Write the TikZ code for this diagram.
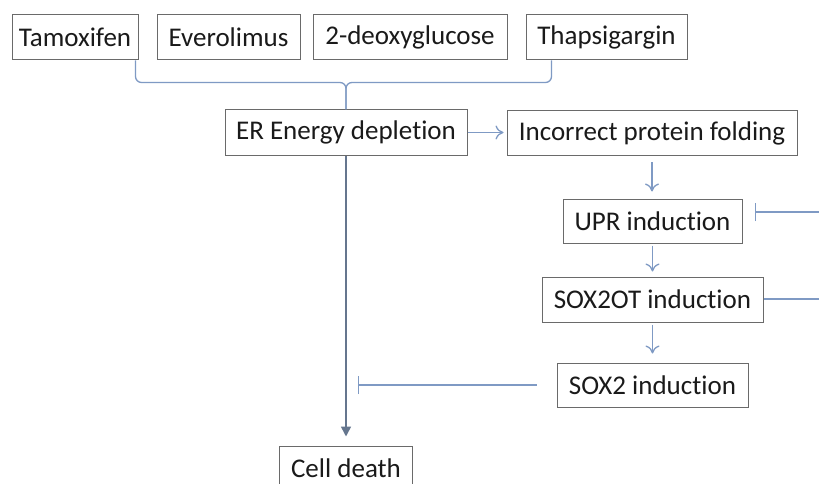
\documentclass[tikz,border=0pt]{standalone}
\usepackage{fontspec}
\setmainfont{Carlito}[Ligatures={NoCommon}]
\usetikzlibrary{arrows.meta,calc}
\definecolor{linkc}{HTML}{7F9AC4}
\definecolor{mainc}{HTML}{65768E}
\definecolor{boxline}{HTML}{6A6A6A}
\definecolor{txt}{HTML}{1A1A1A}
\begin{document}
\begin{tikzpicture}[x=1pt,y=-1pt,
  box/.style={draw=boxline, line width=1pt, minimum height=45pt, inner sep=0pt,
    font=\fontsize{27}{30}\selectfont, text=txt},
  link/.style={draw=linkc, line width=1.3pt},
  flow/.style={link, -{To[length=8pt,width=14pt]}},
  inhib/.style={link, -{Bar[width=18pt,line width=1.3pt]}},
  mainflow/.style={draw=mainc, line width=1.6pt, -{Triangle[length=10pt,width=10pt]}}]
\useasboundingbox (0,0) rectangle (819,484);
\fill[white] (0,0) rectangle (819,484);
\clip (0,0) rectangle (819,484);

\node[box, minimum width=126pt] (tam) at (75,37.5) {Tamoxifen};
\node[box, minimum width=143pt] (eve) at (228.5,37.5) {Everolimus};
\node[box, minimum width=194pt] (deo) at (410,37.5) {2-deoxyglucose};
\node[box, minimum width=161pt] (tha) at (606.5,37.5) {Thapsigargin};

\node[box, minimum width=242pt] (er) at (346,132.5) {ER Energy depletion};
\node[box, minimum width=290pt] (inc) at (652,133) {Incorrect protein folding};
\node[box, minimum width=179pt, minimum height=44pt] (upr) at (652.5,221) {UPR induction};
\node[box, minimum width=221pt] (sot) at (652.5,299.5) {SOX2OT induction};
\node[box, minimum width=191pt, minimum height=44pt] (sox) at (652.5,385) {SOX2 induction};
\node[box, minimum width=133pt] (cd) at (346,468.5) {Cell death};

% bracket joining the four drugs
\draw[link, rounded corners=6pt] ([xshift=-3pt]tam.south east) |- ($(er.north)+(0,-27)$) -- (er.north);
\draw[link, rounded corners=6pt] ([xshift=26pt]tha.south west) |- ($(er.north)+(0,-27)$) -- (er.north);

% main flow
\draw[flow, shorten >=3pt] (er.east) -- (er.east -| inc.west);
\draw[flow, shorten <=6pt, shorten >=7pt] (inc.south) -- (inc.south |- upr.north);
\draw[flow, shorten <=2pt, shorten >=5pt] (upr.south) -- (upr.south |- sot.north);
\draw[flow, shorten <=2pt, shorten >=9pt] (sot.south) -- (sot.south |- sox.north);
\draw[mainflow, shorten >=9pt] (er.south) -- (er.south |- cd.north);

% inhibitions
\coordinate (blk) at (358,385);
\draw[inhib, shorten <=20pt] (sox.west) -- (blk);
\coordinate (r1) at (819,212);
\draw[inhib, shorten >=12pt] (r1) -- (r1 -| upr.east);
\coordinate (r2) at (819,299);
\draw[link] (sot.east |- r2) -- (r2);
\end{tikzpicture}
\end{document}
